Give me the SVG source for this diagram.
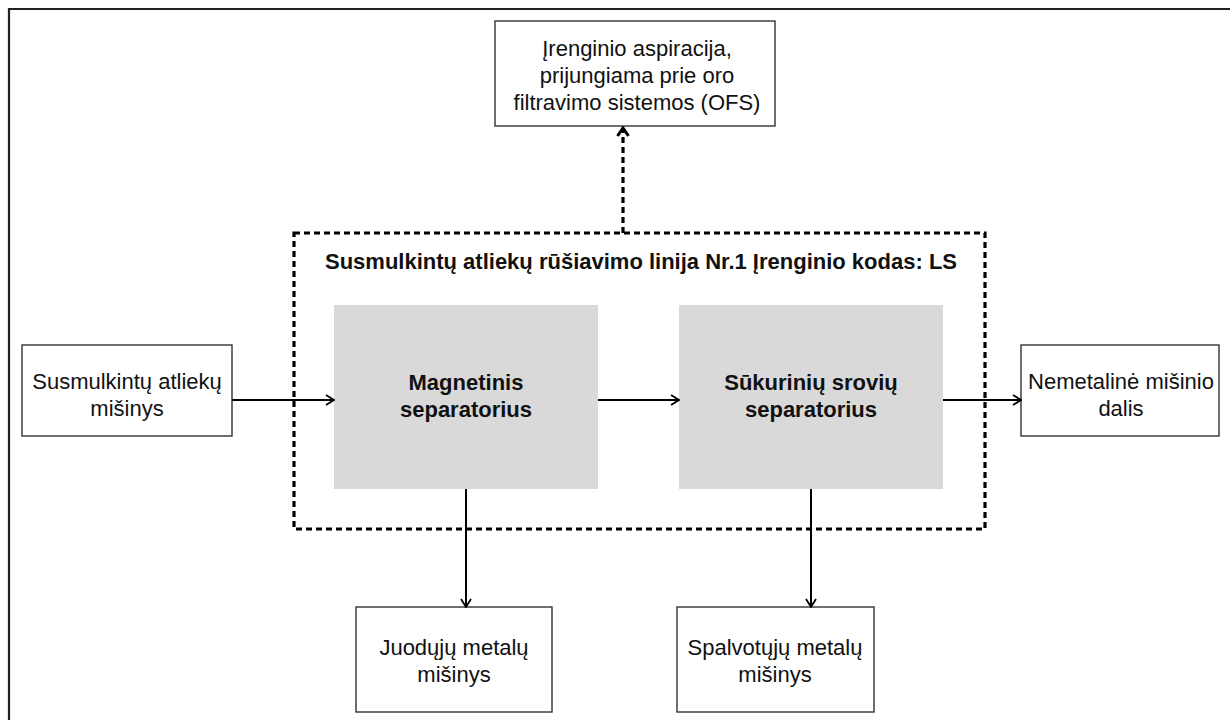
<svg xmlns="http://www.w3.org/2000/svg" width="1230" height="720" viewBox="0 0 1230 720">
  <defs>
    <marker id="arrow" viewBox="0 0 12 12" refX="11" refY="6" markerWidth="12" markerHeight="12" markerUnits="userSpaceOnUse" orient="auto">
      <path d="M3,1 L11,6 L3,11" fill="none" stroke="#000" stroke-width="1.8"/>
    </marker>
    <marker id="arrowBold" viewBox="0 0 14 14" refX="12" refY="7" markerWidth="14" markerHeight="14" markerUnits="userSpaceOnUse" orient="auto">
      <path d="M4,1.5 L12,7 L4,12.5" fill="none" stroke="#000" stroke-width="3"/>
    </marker>
    <style>
      .box { fill: #fff; stroke: #333; stroke-width: 1.4; }
      .proc { fill: #d9d9d9; stroke: none; }
      .t { font-family: "Liberation Sans", Arial, sans-serif; font-size: 22px; fill: #111; text-anchor: middle; }
      .b { font-weight: bold; }
      .flow { fill: none; stroke: #000; stroke-width: 2; marker-end: url(#arrow); }
      .dash { fill: none; stroke: #000; stroke-width: 3.2; stroke-dasharray: 6 4; }
    </style>
  </defs>

  <!-- page frame -->
  <path d="M9,730 V9 H1240" fill="none" stroke="#222" stroke-width="2.2"/>

  <!-- line boundary -->
  <g id="line-ls">
    <rect class="dash" x="294" y="233" width="691" height="296"/>
    <text class="t b" x="641" y="269">Susmulkintų atliekų rūšiavimo linija Nr.1 Įrenginio kodas: LS</text>
  </g>

  <g id="aspiration">
    <rect class="box" x="495" y="21" width="280" height="105"/>
    <text class="t" x="637" y="56">Įrenginio aspiracija,</text>
    <text class="t" x="637" y="83">prijungiama prie oro</text>
    <text class="t" x="637" y="110">filtravimo sistemos (OFS)</text>
  </g>

  <g id="input">
    <rect class="box" x="22" y="345" width="210" height="91"/>
    <text class="t" x="127" y="389">Susmulkintų atliekų</text>
    <text class="t" x="127" y="416">mišinys</text>
  </g>

  <g id="magnetic">
    <rect class="proc" x="334" y="305" width="264" height="184"/>
    <text class="t b" x="466" y="390">Magnetinis</text>
    <text class="t b" x="466" y="417">separatorius</text>
  </g>

  <g id="eddy">
    <rect class="proc" x="679" y="305" width="264" height="184"/>
    <text class="t b" x="811" y="390">Sūkurinių srovių</text>
    <text class="t b" x="811" y="417">separatorius</text>
  </g>

  <g id="nonmetal">
    <rect class="box" x="1021" y="345" width="198" height="91"/>
    <text class="t" x="1121" y="389">Nemetalinė mišinio</text>
    <text class="t" x="1121" y="416">dalis</text>
  </g>

  <g id="ferrous">
    <rect class="box" x="356" y="607" width="196" height="105"/>
    <text class="t" x="454" y="655">Juodųjų metalų</text>
    <text class="t" x="454" y="682">mišinys</text>
  </g>

  <g id="nonferrous">
    <rect class="box" x="677" y="607" width="197" height="105"/>
    <text class="t" x="775" y="655">Spalvotųjų metalų</text>
    <text class="t" x="775" y="682">mišinys</text>
  </g>

  <!-- connectors -->
  <g id="connectors">
    <path class="flow" d="M232,400 H334"/>
    <path class="flow" d="M598,400 H679"/>
    <path class="flow" d="M943,400 H1021"/>
    <path class="flow" d="M466,489 V607"/>
    <path class="flow" d="M811,489 V607"/>
    <path class="dash" d="M623,233 V128" marker-end="url(#arrowBold)"/>
  </g>
</svg>
